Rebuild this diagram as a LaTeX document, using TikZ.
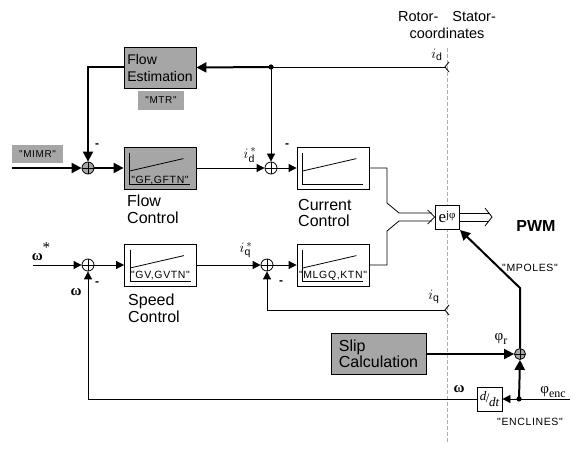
\documentclass[tikz,border=0pt]{standalone}
\usepackage{fontspec}
\setmainfont{Liberation Sans}
\newfontfamily\grk{Liberation Serif}
\newfontfamily\lbl[LetterSpace=6]{Liberation Sans}
\usetikzlibrary{arrows.meta,calc}
\definecolor{boxgray}{RGB}{166,166,166}
\definecolor{dashgray}{RGB}{175,175,175}
\tikzset{
  wire/.style={line width=0.8pt},
  heavy/.style={line width=2pt},
  arr/.style={-{Triangle[length=8pt,width=8pt]}},
  harr/.style={-{Triangle[length=10pt,width=10pt]}},
  blk/.style={draw, line width=0.8pt, minimum width=72pt, minimum height=42pt, inner sep=0pt},
  grayblk/.style={blk, fill=boxgray},
  whiteblk/.style={blk, fill=white},
  sumw/.style={circle, draw, fill=white, line width=0.8pt, minimum size=12pt, inner sep=0pt,
    path picture={\draw[line width=0.7pt] (path picture bounding box.north) -- (path picture bounding box.south)
      (path picture bounding box.west) -- (path picture bounding box.east);}},
  sumg/.style={sumw, fill=boxgray},
  tag/.style={fill=boxgray, font=\lbl\fontsize{10}{10}\selectfont, inner sep=0pt, minimum height=18pt},
  small/.style={font=\lbl\fontsize{10.5}{10}\selectfont, inner sep=0pt},
  captxt/.style={font=\fontsize{16}{16.5}\selectfont, align=left, inner sep=0pt, anchor=north west},
  mlabel/.style={font=\fontsize{15}{15}\selectfont, inner sep=0pt},
  minussign/.style={font=\bfseries\fontsize{12}{12}\selectfont, inner sep=0pt},
}
\newcommand\ctrlicon[1]{%
  \draw[wire] ($(#1.north west)+(6,6)$) -- ($(#1.south west)+(6,-5)$) -- ($(#1.south east)+(-6,-5)$);
  \draw[wire] ($(#1.west)+(6,3)$) -- ($(#1.north east)+(-13,12)$);}
\begin{document}
\begin{tikzpicture}[x=1pt,y=-1pt]
\useasboundingbox (0,0) rectangle (584,454);
% coordinate frame header
\node[font=\fontsize{14.5}{17}\selectfont, align=center, inner sep=0pt] (hdr) at (447,25) {Rotor-\hspace{14pt}Stator-\\coordinates};
\coordinate (dtop) at (447,48);
\coordinate (dbot) at (447,442);
\draw[dashgray, line width=0.8pt, dash pattern=on 4pt off 2pt] (dtop) -- (dbot);

% blocks
\node[grayblk, minimum height=41pt, font=\fontsize{14}{17}\selectfont, align=left] (fe) at (160,67.5) {Flow\\Estimation};
\node[tag, minimum width=46pt, minimum height=19pt] (mtr) at (161,100.5) {"MTR"};
\node[tag, minimum width=51pt] (mimr) at (37.5,154) {"MIMR"};
\node[grayblk] (fc) at (160,168) {};
\node[whiteblk] (cc) at (333,168) {};
\node[whiteblk] (sc) at (160.5,265) {};
\node[whiteblk] (mq) at (333,265) {};
\node[grayblk, minimum width=95pt, minimum height=41pt, font=\fontsize{16}{16}\selectfont, align=left] (slip) at (378.5,354) {Slip\\Calculation};
\node[draw, fill=white, line width=0.8pt, minimum size=24pt, inner sep=0pt] (ejp) at (447,217)
  {{\grk\fontsize{17}{17}\selectfont e}\raisebox{0.6ex}{\grk\fontsize{11}{11}\selectfont jφ}};
\node[draw, fill=white, line width=0.8pt, minimum width=25pt, minimum height=24pt, inner sep=0pt,
      font=\grk\itshape\fontsize{13}{13}\selectfont] (ddt) at (489.5,399)
  {\raisebox{0.45ex}{d}\kern-0.5pt{\upshape/}\kern-0.5pt\raisebox{-0.6ex}{dt}};

\ctrlicon{fc}\ctrlicon{cc}\ctrlicon{sc}\ctrlicon{mq}
\node[small] (fct) at ($(fc.south)+(0,-9)$) {"GF,GFTN"};
\node[small] (sct) at ($(sc.south)+(0,-11)$) {"GV,GVTN"};
\node[small] (mqt) at ($(mq.south)+(0,-11)$) {"MLGQ,KTN"};

% captions
\node[captxt] (fccap) at (127,195) {Flow\\Control};
\node[captxt] (cccap) at (298,199) {Current\\Control};
\node[captxt] (sccap) at (128,294) {Speed\\Control};
\node[font=\bfseries\fontsize{16}{16}\selectfont, inner sep=0pt] (pwm) at (536,226) {PWM};

% summing points
\node[sumg] (s1) at (88,168) {};
\node[sumw] (s2) at (271,168) {};
\node[sumw] (s3) at (88,265) {};
\node[sumw] (s4) at (267,265) {};
\node[sumg, minimum size=11pt] (s5) at (520,354) {};

% coordinates
\coordinate (ch1) at (445,67);
\coordinate (ch2) at (445,310);
\coordinate (j1) at (271,67);
\coordinate (in1) at (12,168);
\coordinate (in2) at (33,265);
\coordinate (in3) at (570,399);
\coordinate (j2) at (519,399);
\coordinate (u1) at (387,203);
\coordinate (u2) at (399,213);
\coordinate (u3) at (432,213);
\coordinate (l1) at (387,231);
\coordinate (l2) at (399,221);
\coordinate (l3) at (432,221);
\coordinate (o1) at (489,213);
\coordinate (o2) at (489,221);
\coordinate (k5) at (520,288);
\coordinate (k6) at (460,230);

% chevrons (port symbols)
\draw[wire] ($(ch1)+(4,-5)$) -- (ch1) -- ($(ch1)+(4,5)$);
\draw[wire] ($(ch2)+(4,-5)$) -- (ch2) -- ($(ch2)+(4,5)$);

% flux loop
\draw[wire] (ch1) -- (j1);
\draw[heavy, harr] (j1) -- (fe.east);
\draw[wire, arr] (j1) -- (s2.north);
\fill (j1) circle (2.6pt);
\draw[heavy, harr] (fe.west) -| (s1.north);
\draw[heavy, harr] (in1) -- (s1.west);
\draw[heavy, harr] (s1.east) -- (fc.west);
\draw[wire, arr] (fc.east) -- (s2.west);
\draw[wire, arr] (s2.east) -- (cc.west);

% speed loop
\draw[wire, arr] (in2) -- (s3.west);
\draw[wire, arr] (s3.east) -- (sc.west);
\draw[wire, arr] (sc.east) -- (s4.west);
\draw[wire, arr] (s4.east) -- (mq.west);
\draw[wire, arr] (ch2) -| (s4.south);
\draw[wire, arr] (ddt.west) -| (s3.south);

% to transformation
\draw[wire] (cc.east) -| (u1) -- (u2) -- (u3);
\draw[wire] (mq.east) -| (l1) -- (l2) -- (l3);
\draw[wire] ($(ejp.west)+(-7,-7)$) -- (ejp.west) -- ($(ejp.west)+(-7,7)$);
\draw[wire] (ejp.east |- o1) -- (o1);
\draw[wire] (ejp.east |- o2) -- (o2);
\draw[wire] ($(o1)+(-4,-5)$) -- ($(o1)+(3,4)$) -- ($(o2)+(-4,5)$);

% angle path
\draw[wire, arr] (in3) -- (ddt.east);
\fill (j2) circle (2.6pt);
\draw[heavy, harr] (j2) -- (s5.south);
\draw[heavy, harr] (slip.east) -- (s5.west);
\draw[heavy, harr] (s5.north) -- (k5) -- (k6);

% labels
\node[mlabel] (lid) at (437,55) {$i_{\mathrm{d}}$};
\node[mlabel] (liq) at (434,297) {$i_{\mathrm{q}}$};
\node[mlabel] (lids) at (250,155) {$i_{\mathrm{d}}^{\,*}$};
\node[mlabel] (liqs) at (246,250) {$i_{\mathrm{q}}^{\,*}$};
\node[mlabel] (lws) at (41,252) {{\grk\bfseries ω}\raisebox{1ex}{\grk *}};
\node[mlabel] (lw1) at (76,292) {\grk\bfseries ω};
\node[mlabel] (lw2) at (459,389) {\grk\bfseries ω};
\node[mlabel] (lphr) at (501,339) {{\grk φ}\raisebox{-0.4ex}{\grk\fontsize{12}{12}\selectfont r}};
\node[mlabel] (lphe) at (553,392) {{\grk φ}\raisebox{-0.4ex}{\grk\fontsize{12}{12}\selectfont enc}};
\node[small] (mp) at (530,268) {"MPOLES"};
\node[small] (enc) at (530,422) {"ENCLINES"};
\node[minussign] (m1) at (97,146) {-};
\node[minussign] (m2) at (287,146) {-};
\node[minussign] (m3) at (97,284) {-};
\node[minussign] (m4) at (281,283) {-};
\end{tikzpicture}
\end{document}
